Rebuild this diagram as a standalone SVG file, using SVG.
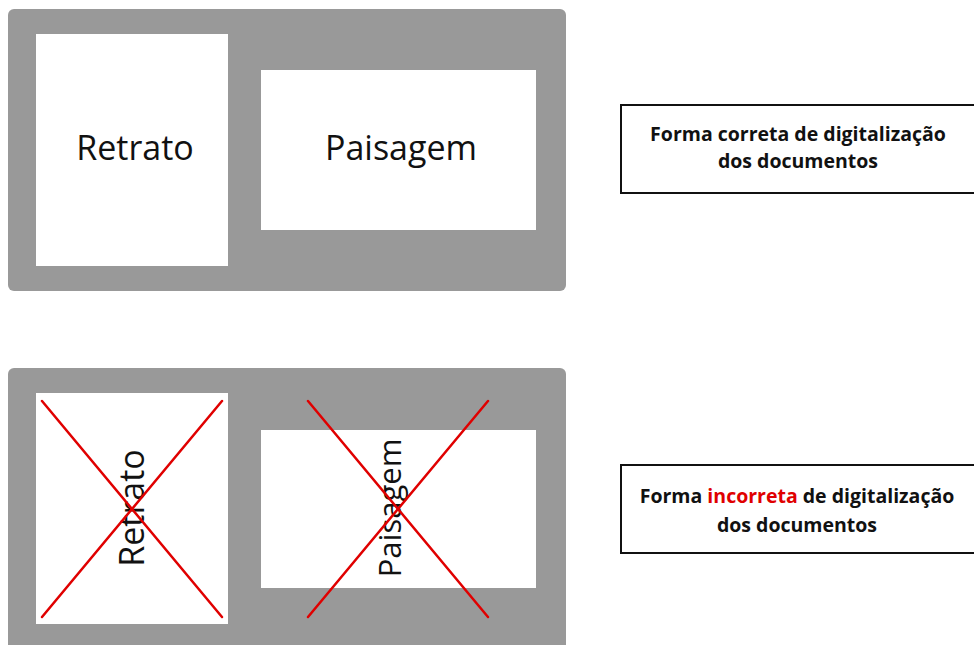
<svg xmlns="http://www.w3.org/2000/svg" width="974" height="645" viewBox="0 0 974 645">
<style>
.panel{fill:#999999}
.page{fill:#ffffff}
.big{font-family:"Open Sans","Noto Sans",sans-serif;font-size:34px;fill:#111;text-anchor:middle}
.box{fill:#fff;stroke:#111;stroke-width:2}
.cap{font-family:"Open Sans","Noto Sans",sans-serif;font-size:19.5px;font-weight:bold;fill:#111;text-anchor:middle}
.x{stroke:#e00000;stroke-width:2.5;stroke-linecap:round}
</style>
<rect width="974" height="645" fill="#fff"/>
<g id="correct-panel">
<rect class="panel" x="8" y="9" width="558" height="282" rx="6"/>
<g id="retrato-ok">
<rect class="page" x="36" y="34" width="192" height="232"/>
<text class="big" x="135" y="160">Retrato</text>
</g>
<g id="paisagem-ok">
<rect class="page" x="261" y="70" width="275" height="160"/>
<text class="big" x="401" y="160">Paisagem</text>
</g>
</g>
<g id="label-correct">
<rect class="box" x="621" y="105" width="360" height="88"/>
<text class="cap" x="798" y="141">Forma correta de digitalização</text>
<text class="cap" x="798" y="168">dos documentos</text>
</g>
<g id="incorrect-panel">
<rect class="panel" x="8" y="368" width="558" height="290" rx="6"/>
<g id="retrato-bad">
<rect class="page" x="36" y="393" width="192" height="231"/>
<text class="big" transform="translate(144 508) rotate(-90)" x="0" y="0">Retrato</text>
</g>
<g id="paisagem-bad">
<rect class="page" x="261" y="430" width="275" height="158"/>
<text class="big" style="font-size:31px" transform="translate(401 508) rotate(-90)" x="0" y="0">Paisagem</text>
</g>
</g>
<g id="connectors">
<line class="x" x1="42" y1="401" x2="222" y2="617"/>
<line class="x" x1="222" y1="401" x2="42" y2="617"/>
<line class="x" x1="308" y1="401" x2="488" y2="617"/>
<line class="x" x1="488" y1="401" x2="308" y2="617"/>
</g>
<g id="label-incorrect">
<rect class="box" x="621" y="465" width="360" height="88"/>
<text class="cap" x="797" y="503">Forma <tspan fill="#e00000">incorreta</tspan> de digitalização</text>
<text class="cap" x="797" y="532">dos documentos</text>
</g>
</svg>
